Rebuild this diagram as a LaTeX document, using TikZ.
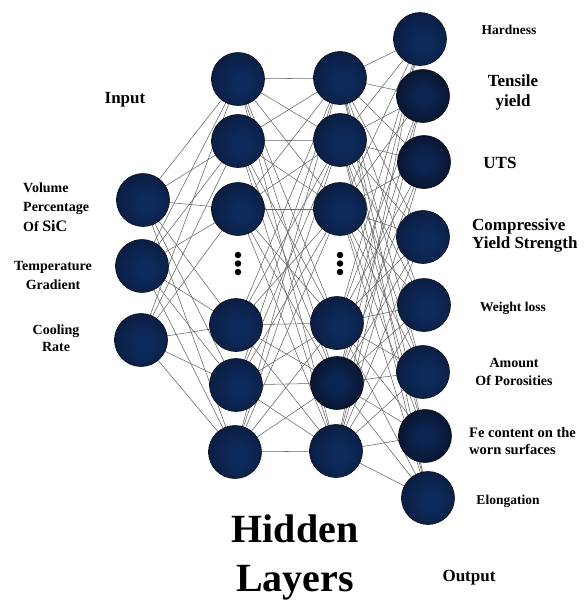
\documentclass[tikz,border=0pt]{standalone}
\usepackage{fontspec}
\setmainfont{Liberation Serif}
\usetikzlibrary{backgrounds}
\definecolor{nodein}{RGB}{13,42,92}
\definecolor{nodemid}{RGB}{10,26,58}
\definecolor{nodeout}{RGB}{7,12,24}
\definecolor{dnodein}{RGB}{12,36,80}
\definecolor{dnodemid}{RGB}{8,18,40}
\definecolor{dnodeout}{RGB}{5,8,16}
\pgfdeclareradialshading{ballshade}{\pgfpoint{4bp}{-4bp}}{color(0bp)=(nodein); color(8bp)=(nodein); color(34bp)=(nodemid); color(56bp)=(nodeout)}
\pgfdeclareradialshading{darkshade}{\pgfpoint{0bp}{0bp}}{color(0bp)=(dnodein); color(8bp)=(dnodein); color(30bp)=(dnodemid); color(50bp)=(dnodeout)}
\tikzset{
  neuron/.style={circle, minimum size=53pt, inner sep=0pt, shading=ballshade, draw=nodeout, line width=0.6pt},
  dneuron/.style={neuron, shading=darkshade},
  wire/.style={draw=black!60, line width=0.55pt},
  vdot/.style={circle, fill=black, minimum size=6.5pt, inner sep=0pt},
  lbl/.style={font=\bfseries\fontsize{13.5}{17}\selectfont, inner sep=0pt},
  biglbl/.style={font=\bfseries\fontsize{17}{19}\selectfont, inner sep=0pt},
}
\begin{document}
\begin{tikzpicture}[x=1pt, y=-1pt]
\useasboundingbox (0,0) rectangle (585,600);
% input layer
\node[neuron] (i1) at (143,200) {};
\node[neuron] (i2) at (142,266) {};
\node[neuron] (i3) at (141,340) {};
% hidden layer 1
\node[neuron] (a1) at (238,79) {};
\node[neuron] (a2) at (238,141) {};
\node[neuron] (a3) at (238,209) {};
\node[neuron] (a4) at (236,325) {};
\node[neuron] (a5) at (236,385) {};
\node[neuron] (a6) at (235,452) {};
% hidden layer 2
\node[neuron] (b1) at (340,78) {};
\node[neuron] (b2) at (340,140) {};
\node[neuron] (b3) at (340,209) {};
\node[neuron] (b4) at (337,323) {};
\node[dneuron] (b5) at (337,383) {};
\node[neuron] (b6) at (336,451) {};
% output layer
\node[neuron] (o1) at (420,39) {};
\node[dneuron] (o2) at (423,96) {};
\node[dneuron] (o3) at (424,162) {};
\node[neuron] (o4) at (423,237) {};
\node[neuron] (o5) at (424,305) {};
\node[neuron] (o6) at (423,372) {};
\node[dneuron] (o7) at (425,436) {};
\node[neuron] (o8) at (428,498) {};
% vertical ellipsis dots
\node[vdot] (da1) at (238,255) {};
\node[vdot] (da2) at (238,263.5) {};
\node[vdot] (da3) at (238,272) {};
\node[vdot] (db1) at (340,255) {};
\node[vdot] (db2) at (340,263.5) {};
\node[vdot] (db3) at (340,272) {};
% connections
\begin{pgfonlayer}{background}
\foreach \s in {i1,i2,i3}{
  \foreach \t in {a1,a2,a3,a4,a5,a6}{
    \draw[wire] (\s.center) -- (\t.center);
  }
}
\foreach \s in {a1,a2,a3,a4,a5,a6}{
  \foreach \t in {b1,b2,b3,b4,b5,b6}{
    \draw[wire] (\s.center) -- (\t.center);
  }
}
\foreach \s in {b1,b2,b3,b4,b5,b6}{
  \foreach \t in {o1,o2,o3,o4,o5,o6,o7,o8}{
    \draw[wire] (\s.center) -- (\t.center);
  }
}
\end{pgfonlayer}
% labels
\node[biglbl] (tin) at (125,100) {Input};
\node[lbl, anchor=west, align=left, font=\bfseries\fontsize{14}{19.5}\selectfont] (tvol) at (23,207) {Volume\\Percentage\\Of {\fontsize{16}{19.5}\selectfont SiC}};
\node[lbl, align=center, font=\bfseries\fontsize{14}{19}\selectfont] (ttemp) at (53,275) {Temperature\\Gradient};
\node[lbl, align=center, font=\bfseries\fontsize{14}{17}\selectfont] (tcool) at (56,338) {Cooling\\Rate};
\node[lbl] (thard) at (509,30) {Hardness};
\node[biglbl, align=center, font=\bfseries\fontsize{17}{20}\selectfont] (tten) at (513,92) {Tensile\\yield};
\node[biglbl] (tuts) at (500,163) {UTS};
\node[biglbl, anchor=west, align=left, font=\bfseries\fontsize{17}{18}\selectfont] (tcomp) at (472,235) {Compressive\\Yield Strength};
\node[lbl] (twl) at (513,308) {Weight loss};
\node[lbl, align=center, font=\bfseries\fontsize{14}{18}\selectfont] (tpor) at (514,372) {Amount\\Of Porosities};
\node[lbl, anchor=west, align=left, font=\bfseries\fontsize{14.5}{16.5}\selectfont] (tfe) at (469,441) {Fe content on the\\worn surfaces};
\node[lbl] (telo) at (508,501) {Elongation};
\node[inner sep=0pt, align=center, font=\bfseries\fontsize{40}{49}\selectfont] (thid) at (295,557) {Hidden\\Layers};
\node[biglbl] (tout) at (469,578) {Output};
\end{tikzpicture}
\end{document}
